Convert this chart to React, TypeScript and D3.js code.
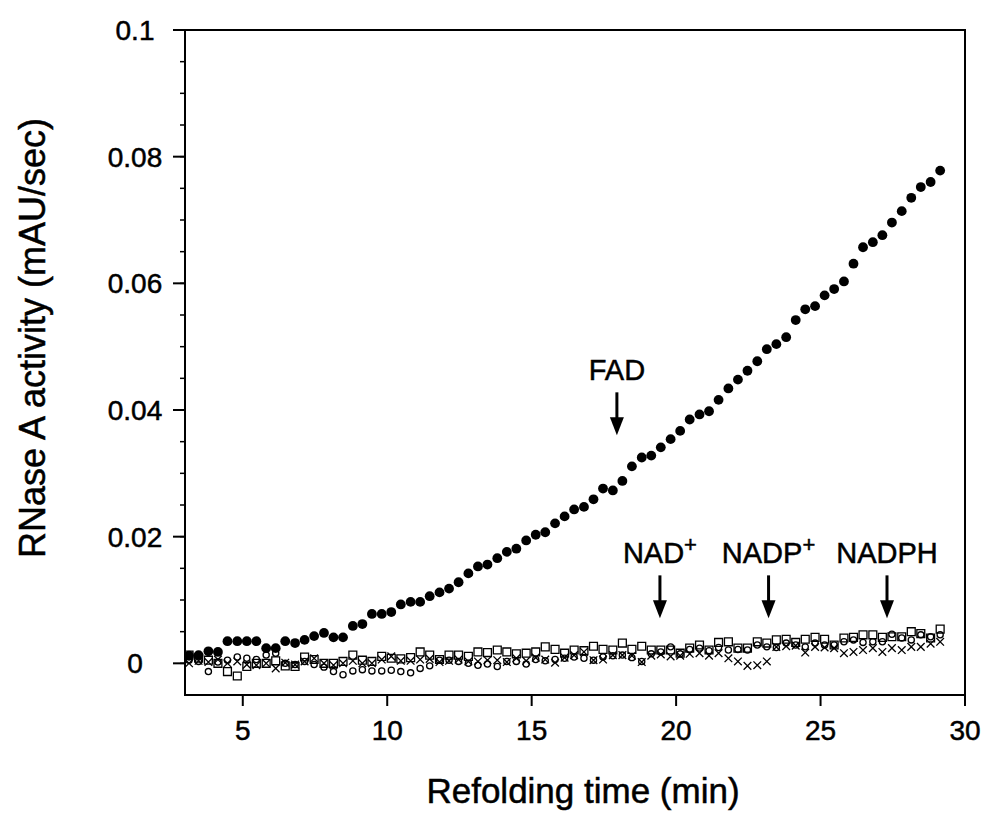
import React from 'react';
import * as d3 from 'd3';

// refolding time, min (one reading every 20 s)
const times = [
  3.14, 3.47, 3.81, 4.14, 4.47, 4.81, 5.14, 5.47, 5.81, 6.14, 6.47, 6.81, 7.14, 7.47, 7.81, 8.14,
  8.47, 8.81, 9.14, 9.47, 9.81, 10.14, 10.47, 10.81, 11.14, 11.47, 11.81, 12.14, 12.47, 12.81,
  13.14, 13.47, 13.81, 14.14, 14.47, 14.81, 15.14, 15.47, 15.81, 16.14, 16.47, 16.81, 17.14,
  17.47, 17.81, 18.14, 18.47, 18.81, 19.14, 19.47, 19.81, 20.14, 20.47, 20.81, 21.14, 21.47,
  21.81, 22.14, 22.47, 22.81, 23.14, 23.47, 23.81, 24.14, 24.47, 24.81, 25.14, 25.47, 25.81,
  26.14, 26.47, 26.81, 27.14, 27.47, 27.81, 28.14, 28.47, 28.81, 29.14,
];

const fad = [
  0.0012, 0.0013, 0.0019, 0.0018, 0.0035, 0.0035, 0.0035, 0.0035, 0.0024, 0.0024, 0.0035,
  0.0032, 0.0037, 0.0043, 0.0048, 0.0041, 0.0041, 0.0059, 0.0062, 0.0078, 0.0078, 0.0081,
  0.0093, 0.0097, 0.0097, 0.0106, 0.0112, 0.0118, 0.0128, 0.0142, 0.0153, 0.0156, 0.0166,
  0.0176, 0.0181, 0.0194, 0.0203, 0.0207, 0.0221, 0.0232, 0.0243, 0.0247, 0.0259, 0.0276,
  0.0273, 0.0288, 0.0311, 0.0325, 0.0328, 0.0341, 0.0354, 0.0367, 0.0385, 0.0393, 0.0398,
  0.0416, 0.0434, 0.0448, 0.0462, 0.0477, 0.0496, 0.0504, 0.0515, 0.0542, 0.0559, 0.0564,
  0.0581, 0.0591, 0.0603, 0.0631, 0.0657, 0.0665, 0.0676, 0.0696, 0.0714, 0.0735, 0.0752,
  0.076, 0.0778,
];

const nadp = [
  0.0013, 0.0008, 0.0005, 0.0, -0.0013, -0.002, -0.0005, 0.0, 0.0, 0.0004, -0.0004, -0.0005,
  0.001, 0.0006, 0.0, 0.0, 0.0003, 0.0013, 0.0005, 0.0003, 0.0011, 0.0008, 0.0007, 0.0009,
  0.0018, 0.0013, 0.0006, 0.0013, 0.0013, 0.0011, 0.0018, 0.0017, 0.0021, 0.0018, 0.0015,
  0.0016, 0.0018, 0.0026, 0.0022, 0.0016, 0.0021, 0.002, 0.0027, 0.0022, 0.0021, 0.0032,
  0.0022, 0.0027, 0.0021, 0.0021, 0.0021, 0.0016, 0.0024, 0.0029, 0.0021, 0.0033, 0.0034,
  0.0024, 0.0024, 0.0034, 0.0032, 0.0037, 0.0038, 0.0033, 0.0038, 0.0041, 0.0038, 0.0029,
  0.004, 0.0041, 0.0045, 0.0045, 0.0041, 0.0042, 0.0042, 0.005, 0.0047, 0.004, 0.0054,
];

const nad = [
  0.0005, 0.0003, -0.0013, 0.0002, 0.0005, 0.001, 0.0008, 0.0006, 0.0013, 0.0016, 0.0, -0.0002,
  0.0003, -0.0002, -0.0006, -0.0013, -0.0018, -0.0012, -0.001, -0.0012, -0.0012, -0.0011,
  -0.0013, -0.0015, -0.0008, -0.0004, 0.0005, 0.0005, 0.0003, 0.0, -0.0003, -0.0001, -0.0005,
  0.0003, 0.0003, -0.0001, 0.0006, 0.0004, 0.0006, 0.0008, 0.001, 0.0008, 0.0005, 0.001,
  0.0012, 0.0013, 0.0009, 0.0003, 0.0015, 0.0018, 0.0026, 0.0015, 0.0022, 0.0024, 0.002,
  0.0025, 0.0021, 0.0022, 0.0021, 0.0029, 0.0026, 0.0025, 0.0032, 0.0029, 0.0026, 0.0032,
  0.0029, 0.0029, 0.0034, 0.0037, 0.0033, 0.0034, 0.0034, 0.0046, 0.004, 0.0037, 0.0045,
  0.0042, 0.0045,
];

const nadph = [
  0.0, 0.0004, 0.0002, 0.0006, 0.0, 0.0003, -0.0002, -0.0003, 0.0, -0.0008, 0.0001, -0.0002,
  0.0003, 0.0008, 0.0, -0.0003, 0.0, 0.0004, 0.0, 0.0, 0.0006, 0.0011, 0.0004, 0.0004, 0.0006,
  0.0007, 0.0002, 0.0004, 0.0006, 0.0003, 0.0003, 0.0005, 0.0005, 0.0002, 0.0008, 0.0004,
  0.0009, 0.0006, 0.0001, 0.0009, 0.0013, 0.0018, 0.0005, 0.0006, 0.0013, 0.0013, 0.0012,
  0.0002, 0.0012, 0.0014, 0.0011, 0.0012, 0.0015, 0.0016, 0.0012, 0.0016, 0.0008, 0.0003,
  -0.0004, -0.0003, 0.0003, 0.0026, 0.0027, 0.0028, 0.0017, 0.0026, 0.0025, 0.0024, 0.0016,
  0.0018, 0.0021, 0.0024, 0.0018, 0.0024, 0.0021, 0.0026, 0.0026, 0.0031, 0.0034,
];

const xTicks = [5, 10, 15, 20, 25, 30];
const yTicks = [0, 0.02, 0.04, 0.06, 0.08, 0.1];
const yTickLabels = ['0', '0.02', '0.04', '0.06', '0.08', '0.1'];

// arrows: label, superscript, time pointed at, value of the arrow tip
const notes = [
  { name: 'FAD', sup: '', t: 17.95, tip: 0.036 },
  { name: 'NAD', sup: '+', t: 19.44, tip: 0.0071 },
  { name: 'NADP', sup: '+', t: 23.2, tip: 0.0071 },
  { name: 'NADPH', sup: '', t: 27.3, tip: 0.0071 },
];

const font = '"Liberation Sans", Arial, Helvetica, sans-serif';
const ink = { fill: '#000', stroke: '#000', strokeWidth: 0.5 };

const App = () => {
  const width = 982;
  const height = 820;
  const m = { left: 185, right: 965, top: 30, bottom: 695 };

  const x = d3.scaleLinear().domain([3, 30]).range([m.left, m.right]);
  const y = d3.scaleLinear().domain([-0.005, 0.1]).range([m.bottom, m.top]);
  const minorY = d3.range(0, 0.1001, 0.005);

  const square = d3.symbol().type(d3.symbolSquare).size(62)();
  const circle = d3.symbol().type(d3.symbolCircle).size(30)();
  const cross = d3.symbol().type((d3 as any).symbolTimes || d3.symbolCross).size(40)();

  const open = [
    { values: nadph, path: cross },
    { values: nad, path: circle },
    { values: nadp, path: square },
  ];

  return (
    <svg width={width} height={height} style={{ position: 'absolute', left: 0, top: 0 }}
      fontFamily={font}>
      <rect width={width} height={height} fill="#fff" />
      <rect x={m.left} y={m.top} width={m.right - m.left} height={m.bottom - m.top}
        fill="none" stroke="#000" strokeWidth={2} />

      {minorY.map((v, i) => (
        <line key={i} x1={m.left - 5} x2={m.left} y1={y(v)} y2={y(v)} stroke="#000" strokeWidth={1.5} />
      ))}
      {yTicks.map((v, i) => (
        <g key={i}>
          <line x1={m.left - 12} x2={m.left} y1={y(v)} y2={y(v)} stroke="#000" strokeWidth={2} />
          <text x={135} y={y(v)} dy="0.36em" textAnchor="middle" fontSize={28} {...ink}>
            {yTickLabels[i]}
          </text>
        </g>
      ))}
      {xTicks.map((v) => (
        <g key={v}>
          <line x1={x(v)} x2={x(v)} y1={m.bottom} y2={m.bottom + 11} stroke="#000" strokeWidth={2} />
          <text x={x(v)} y={740} textAnchor="middle" fontSize={28} {...ink}>{v}</text>
        </g>
      ))}

      <text x={583} y={803} textAnchor="middle" fontSize={35} {...ink}>Refolding time (min)</text>
      <text transform="translate(45,338) rotate(-90)" textAnchor="middle" fontSize={36} {...ink}>
        RNase A activity (mAU/sec)
      </text>

      {open.map((s, k) => (
        <g key={k}>
          {s.values.map((v, i) => (
            <path key={i} d={s.path} transform={`translate(${x(times[i])},${y(v)})`}
              fill="none" stroke="#000" strokeWidth={1.3} />
          ))}
        </g>
      ))}
      {fad.map((v, i) => (
        <circle key={i} cx={x(times[i])} cy={y(v)} r={4.9} fill="#000" />
      ))}

      {notes.map((n) => {
        const tx = x(n.t);
        const tipY = y(n.tip);
        return (
          <g key={n.name}>
            <line x1={tx} x2={tx} y1={tipY - 43} y2={tipY - 14} stroke="#000" strokeWidth={3} />
            <path d={`M${tx - 7},${tipY - 18} L${tx + 7},${tipY - 18} L${tx},${tipY} Z`} fill="#000" />
            <text x={tx} y={tipY - 55} textAnchor="middle" fontSize={29} {...ink}>
              {n.name}
              {n.sup && <tspan fontSize={22} dy={-11}>{n.sup}</tspan>}
            </text>
          </g>
        );
      })}
    </svg>
  );
};

export default App;
